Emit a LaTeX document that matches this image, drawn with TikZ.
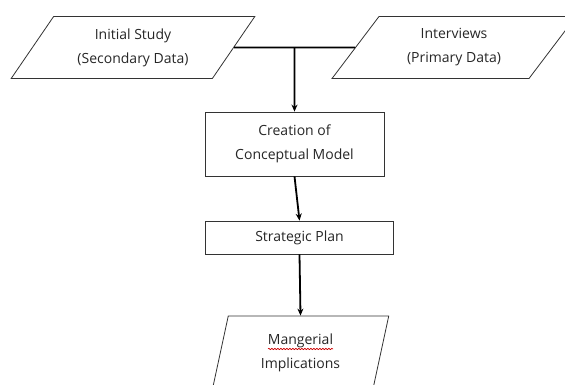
\documentclass[tikz,border=0pt]{standalone}
\usepackage{fontspec}
\setmainfont{Open Sans}
\usetikzlibrary{shapes.geometric,arrows.meta,calc,decorations.pathmorphing}
\newlength{\wavelen}

\begin{document}
\settowidth{\wavelen}{\fontsize{14}{24}\selectfont Mangerial}
\begin{tikzpicture}[x=1pt, y=-1pt,
        box/.style={draw=black!80, line width=0.8pt, rectangle, align=center, text=black!85, font=\fontsize{14}{24}\selectfont},
        datapara/.style={draw=black!80, line width=0.8pt, trapezium, trapezium left angle=52, trapezium right angle=128, trapezium stretches=true, inner sep=0pt, align=center, text=black!85, font=\fontsize{14}{24}\selectfont},
        flow/.style={line width=1.8pt, -{Stealth[length=7pt,width=6pt]}}]
        \useasboundingbox (0,0) rectangle (565,385);
        \clip (0,0) rectangle (565,385);
        \node[datapara, minimum width=244, minimum height=62] (study) at (133,47.5) {Initial Study\\(Secondary Data)};
        \node[datapara, minimum width=244, minimum height=62] (interviews) at (454,47.5) {Interviews\\(Primary Data)};
        \node[box, minimum width=179, minimum height=64] (concept) at (294.5,144) {Creation of\\Conceptual Model};
        \node[box, minimum width=188, minimum height=33] (plan) at (299.5,237.5) {Strategic Plan};
        \node[datapara, trapezium left angle=77, trapezium right angle=103, minimum width=177, minimum height=74] (implications) at (300.5,353) {Mangerial\\Implications};
        \draw[red!80!black, line width=0.6pt, decorate, decoration={snake, amplitude=0.7pt, segment length=3pt}] ($(implications.center)+(-0.5\wavelen,4pt)$) -- ++(\wavelen,0pt);
        \draw[line width=1.8pt] (study.east) -- coordinate[pos=0.5] (join) (interviews.west);
        \draw[flow] (join) -- (concept.north);
        \draw[flow] (concept.south) -- (plan.north);
        \draw[flow] (plan.south) -- (implications.north);
    \end{tikzpicture}
\end{document}
